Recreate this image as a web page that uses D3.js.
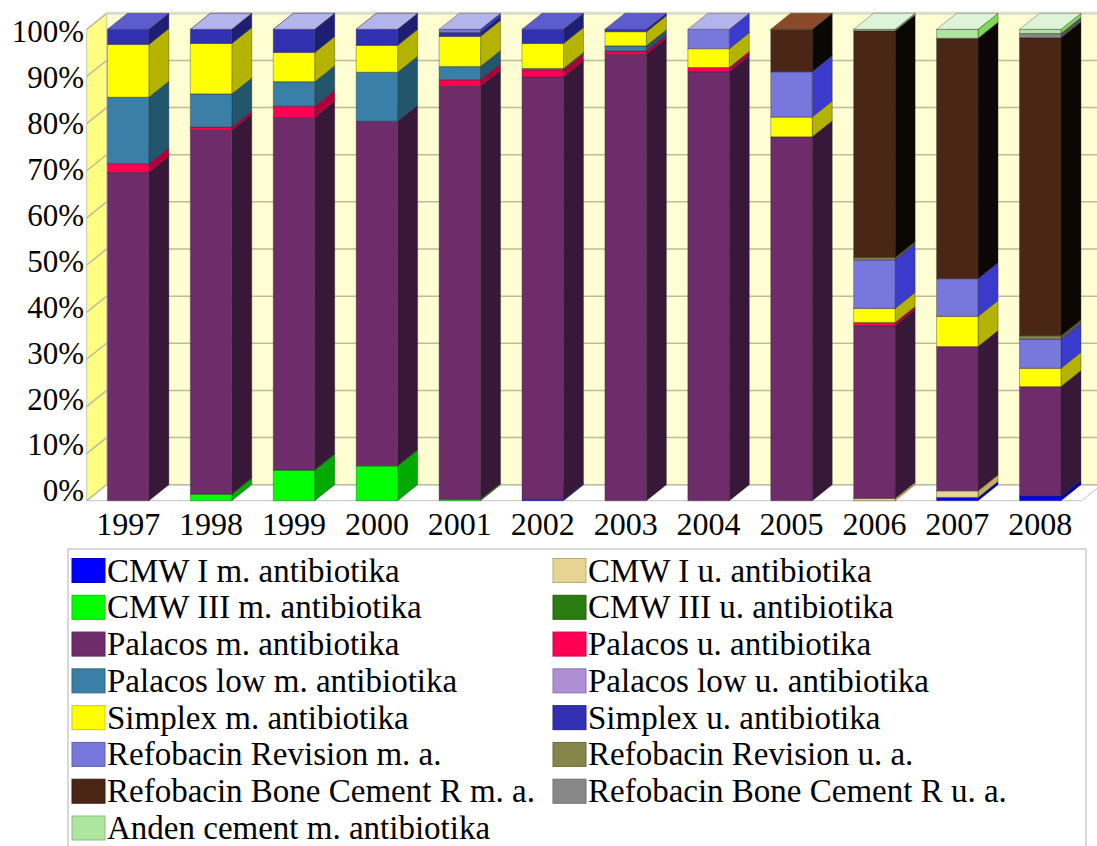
<!DOCTYPE html>
<html>
<head>
<meta charset="utf-8">
<script src="https://cdn.jsdelivr.net/npm/d3@7"></script>
<style>
  body { margin: 0; background: #fff; }
  svg, svg text { font-family: "Liberation Serif", Tinos, "Times New Roman", "DejaVu Serif", serif; }
</style>
</head>
<body>
<div id="vis"></div>
<script>
// categories
const years = ['1997', '1998', '1999', '2000', '2001', '2002', '2003', '2004', '2005', '2006', '2007', '2008'];

const seriesNames = [
  'CMW I m. antibiotika', 'CMW I u. antibiotika',
  'CMW III m. antibiotika', 'CMW III u. antibiotika',
  'Palacos m. antibiotika', 'Palacos u. antibiotika',
  'Palacos low m. antibiotika', 'Palacos low u. antibiotika',
  'Simplex m. antibiotika', 'Simplex u. antibiotika',
  'Refobacin Revision m. a.', 'Refobacin Revision u. a.',
  'Refobacin Bone Cement R m. a.', 'Refobacin Bone Cement R u. a.',
  'Anden cement m. antibiotika'
];

// share of each year in %, null = not in use that year
const cmwIm       = [null, null, null, null, null, 0.3, null, null, null, null, 0.7, 1.0];
const cmwIu       = [null, null, null, null, null, null, null, null, null, 0.5, 1.4, null];
const cmwIIIm     = [null, 1.4, 6.5, 7.4, 0.3, null, null, null, null, null, null, null];
const cmwIIIu     = [null, null, null, null, null, null, null, null, null, null, null, null];
const palacosM    = [69.6, 77.2, 74.8, 73.1, 87.6, 89.6, 94.7, 91.0, 77.2, 36.6, 30.6, 23.2];
const palacosU    = [1.9, 0.7, 2.4, null, 1.4, 1.5, 0.7, 0.9, null, 0.7, null, null];
const palacosLowM = [14.1, 7.0, 5.2, 10.4, 2.8, 0.3, 1.1, null, null, null, null, null];
const palacosLowU = [null, null, null, null, null, null, null, null, null, null, null, null];
const simplexM    = [11.2, 10.7, 6.2, 5.7, 6.4, 5.3, 3.0, 4.0, 4.2, 3.0, 6.4, 3.9];
const simplexU    = [3.2, 3.0, 4.9, 3.4, 0.8, 3.0, 0.5, null, null, null, null, null];
const refoRevM    = [null, 0, 0, 0, 0.7, null, null, 4.1, 9.6, 10.3, 8.0, 6.2];
const refoRevU    = [null, null, null, null, null, null, null, null, null, 0.5, null, 0.7];
const refoBcrM    = [null, null, null, null, null, null, null, null, 9.0, 48.1, 51.0, 63.2];
const refoBcrU    = [null, null, null, null, null, null, null, null, null, null, null, 0.9];
const anden       = [null, null, null, null, null, null, null, null, null, 0.3, 1.9, 0.9];

const seriesValues = [cmwIm, cmwIu, cmwIIIm, cmwIIIu, palacosM, palacosU, palacosLowM, palacosLowU,
  simplexM, simplexU, refoRevM, refoRevU, refoBcrM, refoBcrU, anden];

const yTicks = [0, 10, 20, 30, 40, 50, 60, 70, 80, 90, 100];

// face colours (front / right side / top)
const frontColors = ['#0000ff', '#e6d592', '#00ff00', '#2a7c10', '#6e2d6a', '#ff0055', '#3a7fa6', '#ae8fd6',
  '#ffff00', '#3030b0', '#7777dd', '#86864a', '#4a2616', '#888888', '#aee6a0'];
const sideColors = ['#0000b0', '#c4b060', '#00aa00', '#1a5008', '#381838', '#b0003c', '#22566c', '#7a609a',
  '#b3b300', '#1e1e72', '#3a3acc', '#5a5a2a', '#0b0705', '#555555', '#7ed85a'];
const topColors = ['#5c5cff', '#f2e8c0', '#80ff80', '#5aa040', '#a060a0', '#ff6090', '#70b0d0', '#d6c4ee',
  '#ffff90', '#5c5ccf', '#b4b4ec', '#b0b070', '#8a4a28', '#b8b8b8', '#def4d8'];

const W = 1097, H = 846;
const dx = 20, dy = 16;   // depth of the 3d look
const FONT = '"Liberation Serif", Tinos, "Times New Roman", "DejaVu Serif", serif';

const svg = d3.select('#vis').append('svg')
  .attr('width', W)
  .attr('height', H)
  .attr('font-family', FONT);

const x = d3.scaleBand()
  .domain(years)
  .range([86.7, 1081.7])
  .paddingInner(0.5)
  .paddingOuter(0.25);

const y = d3.scaleLinear().domain([0, 100]).range([500.7, 29.3]);
const yLab = d3.scaleLinear().domain([0, 100]).range([491, 31.7]);

const x0 = x.range()[0], x1 = x.range()[1];

// walls and floor
svg.append('rect')
  .attr('x', x0 + dx).attr('y', y(100) - dy)
  .attr('width', x1 - x0 + 4).attr('height', y(0) - y(100))
  .attr('fill', '#fefed2');
svg.append('polygon')
  .attr('points', [[x0, y(0)], [x0, y(100)], [x0 + dx, y(100) - dy], [x0 + dx, y(0) - dy]].join(' '))
  .attr('fill', '#fefe80')
  .attr('stroke', '#c8c8b0').attr('stroke-width', 1);
svg.append('polygon')
  .attr('points', [[x0, y(0)], [x1, y(0)], [x1 + dx, y(0) - dy], [x0 + dx, y(0) - dy]].join(' '))
  .attr('fill', '#ffffff')
  .attr('stroke', '#c0c0c0').attr('stroke-width', 1);

// grid lines
const grid = svg.append('g').attr('stroke', '#bcbc9e').attr('stroke-width', 1.5).attr('fill', 'none');
yTicks.forEach(t => {
  grid.append('path')
    .attr('d', `M${x0},${y(t)}L${x0 + dx},${y(t) - dy}H${x1 + dx + 4}`);
});
svg.append('line')
  .attr('x1', x0 + dx).attr('x2', W)
  .attr('y1', y(100) - dy).attr('y2', y(100) - dy)
  .attr('stroke', '#dcdccc').attr('stroke-width', 3);

// stacked bars
const rows = years.map((yr, i) => {
  const r = { year: yr };
  seriesNames.forEach((s, k) => { r[s] = seriesValues[k][i] == null ? 0 : seriesValues[k][i]; });
  return r;
});
const stacked = d3.stack().keys(seriesNames)(rows);

const bw = x.bandwidth();
const bars = svg.append('g')
  .attr('stroke', 'rgba(40,40,40,0.45)')
  .attr('stroke-width', 0.8)
  .attr('stroke-linejoin', 'round');

years.forEach((yr, i) => {
  const bx = x(yr);
  const g = bars.append('g');
  seriesNames.forEach((s, k) => {
    if (seriesValues[k][i] == null) return;
    const lo = y(stacked[k][i][0]), hi = y(stacked[k][i][1]);
    g.append('polygon')
      .attr('points', [[bx + bw, lo], [bx + bw + dx, lo - dy], [bx + bw + dx, hi - dy], [bx + bw, hi]].join(' '))
      .attr('fill', sideColors[k]);
    g.append('rect')
      .attr('x', bx).attr('y', hi)
      .attr('width', bw).attr('height', lo - hi)
      .attr('fill', frontColors[k]);
    g.append('polygon')
      .attr('points', [[bx, hi], [bx + bw, hi], [bx + bw + dx, hi - dy], [bx + dx, hi - dy]].join(' '))
      .attr('fill', topColors[k]);
  });
});

// axes
const yAxis = svg.append('g')
  .attr('transform', 'translate(84,0)')
  .call(d3.axisLeft(yLab).tickValues(yTicks).tickFormat(d => d + '%').tickSize(0).tickPadding(0));
yAxis.select('.domain').remove();
yAxis.attr('font-family', FONT).attr('font-size', 31);
yAxis.selectAll('text').attr('fill', '#000');

const xAxis = svg.append('g')
  .attr('transform', `translate(0,${y(0)})`)
  .call(d3.axisBottom(x).tickSize(0).tickPadding(12));
xAxis.select('.domain').remove();
xAxis.attr('font-family', FONT).attr('font-size', 32);
xAxis.selectAll('text').attr('fill', '#000');

// legend
const legend = svg.append('g');
legend.append('rect')
  .attr('x', 68).attr('y', 549)
  .attr('width', 1018).attr('height', 310)
  .attr('fill', '#fff')
  .attr('stroke', '#cccccc').attr('stroke-width', 1.5);

const colX = [72, 553];
const rowY = d3.scaleLinear().domain([0, 7]).range([570.5, 828]);

seriesNames.forEach((s, k) => {
  const cx = colX[k % 2], cy = rowY(Math.floor(k / 2));
  const item = legend.append('g');
  item.append('rect')
    .attr('x', cx).attr('y', cy - 12)
    .attr('width', 33).attr('height', 24)
    .attr('fill', frontColors[k])
    .attr('stroke', d3.color(frontColors[k]).darker(0.6))
    .attr('stroke-width', 1);
  item.append('text')
    .attr('x', cx + 35).attr('y', cy + 11)
    .attr('font-size', 33)
    .attr('font-family', FONT)
    .attr('fill', '#000')
    .text(s);
});
</script>
</body>
</html>
